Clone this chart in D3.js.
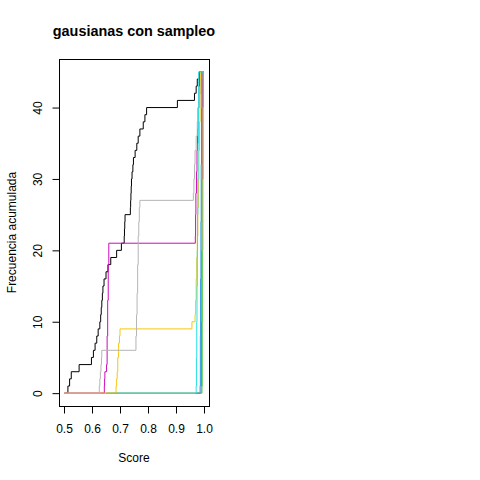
<!DOCTYPE html>
<html>
<head>
<meta charset="utf-8">
<script src="https://cdn.jsdelivr.net/npm/d3@7"></script>
<style>
  body { margin: 0; background: #fff; }
  text { font-family: "Liberation Sans", Arial, sans-serif; }
</style>
</head>
<body>
<div class="canva"></div>
<script>
// curvas de frecuencia acumulada (score, frecuencia)
const negroScore = [0.502, 0.514, 0.520, 0.526, 0.554, 0.598, 0.605, 0.611, 0.617, 0.622, 0.628, 0.631, 0.633, 0.635, 0.637, 0.639, 0.643, 0.650, 0.657, 0.667, 0.688, 0.705, 0.715, 0.716, 0.717, 0.718, 0.737, 0.738, 0.739, 0.740, 0.741, 0.743, 0.746, 0.748, 0.754, 0.760, 0.765, 0.771, 0.783, 0.789, 0.795, 0.905, 0.966, 0.972, 0.976, 0.983, 0.998];
const negroFrec  = [0, 1, 2, 3, 4, 5, 6, 7, 8, 9, 10, 11, 12, 13, 14, 15, 16, 17, 18, 19, 20, 21, 22, 23, 24, 25, 26, 27, 28, 29, 30, 31, 32, 33, 34, 35, 36, 37, 38, 39, 40, 41, 42, 43, 44, 45, 45];

const grisScore = [0.502, 0.626, 0.628, 0.630, 0.632, 0.634, 0.635, 0.757, 0.759, 0.761, 0.763, 0.765, 0.767, 0.769, 0.771, 0.962, 0.964, 0.966, 0.968, 0.972, 0.976, 0.980, 0.985, 0.990, 0.992, 0.998];
const grisFrec  = [0, 1, 2, 3, 4, 5, 6, 8, 11, 14, 18, 22, 24, 26, 27, 28, 30, 32, 34, 36, 38, 40, 42, 44, 45, 45];

const magentaScore = [0.502, 0.644, 0.645, 0.646, 0.652, 0.654, 0.656, 0.658, 0.660, 0.969, 0.970, 0.971, 0.973, 0.975, 0.977, 0.979, 0.982, 0.984, 0.998];
const magentaFrec  = [0, 1, 2, 3, 4, 8, 13, 18, 21, 22, 25, 28, 31, 34, 37, 40, 43, 45, 45];

const amarilloScore = [0.502, 0.686, 0.688, 0.690, 0.692, 0.695, 0.698, 0.700, 0.957, 0.968, 0.970, 0.972, 0.974, 0.976, 0.978, 0.980, 0.982, 0.984, 0.986, 0.988, 0.998];
const amarilloFrec  = [0, 1, 2, 3, 5, 7, 8, 9, 10, 11, 13, 16, 19, 22, 26, 30, 34, 38, 42, 45, 45];

const rojoScore = [0.502, 0.990, 0.991, 0.992, 0.993, 0.994, 0.995, 0.998];
const rojoFrec  = [0, 1, 10, 20, 30, 40, 45, 45];

const verdeScore = [0.650, 0.993, 0.994, 0.995, 0.996, 0.997, 0.998];
const verdeFrec  = [0, 1, 10, 20, 30, 40, 45];

const azulScore = [0.970, 0.986, 0.987, 0.988, 0.989, 0.990, 0.991, 0.992, 0.998];
const azulFrec  = [0, 1, 8, 16, 24, 32, 40, 45, 45];

const cianScore = [0.688, 0.972, 0.973, 0.974, 0.975, 0.976, 0.977, 0.978, 0.979, 0.980, 0.981, 0.998];
const cianFrec  = [0, 1, 5, 10, 15, 20, 25, 30, 35, 40, 45, 45];

const xTicks = [0.5, 0.6, 0.7, 0.8, 0.9, 1.0];
const yTicks = [0, 10, 20, 30, 40];

// orden de dibujo
const series = [
  {x: negroScore, y: negroFrec, col: '#000000'},
  {x: rojoScore, y: rojoFrec, col: '#DF536B'},
  {x: magentaScore, y: magentaFrec, col: '#CD0BBC'},
  {x: amarilloScore, y: amarilloFrec, col: '#F5C710'},
  {x: grisScore, y: grisFrec, col: '#b5b5b5'},
  {x: verdeScore, y: verdeFrec, col: '#61D04F'},
  {x: azulScore, y: azulFrec, col: '#2297E6'},
  {x: cianScore, y: cianFrec, col: '#28E2E5'}
];

const svg = d3.select('.canva').append('svg')
    .attr('width', 480)
    .attr('height', 480);

const x = d3.scaleLinear().domain([0.48214, 1.01786]).range([59, 209]);
const y = d3.scaleLinear().domain([-1.8, 46.8]).range([406, 59]);

const line = d3.line()
    .x(d => x(d[0]))
    .y(d => y(d[1]))
    .curve(d3.curveStepAfter);

series.forEach(s => {
  svg.append('path')
     .datum(s.x.map((v, i) => [v, s.y[i]]))
     .attr('fill', 'none')
     .attr('stroke', s.col)
     .attr('stroke-width', 1)
     .attr('d', line);
});

// caja
svg.append('rect')
   .attr('x', 59.5).attr('y', 59.5)
   .attr('width', 150).attr('height', 347)
   .attr('fill', 'none').attr('stroke', '#000');

// ejes
const xAxis = svg.append('g')
    .attr('transform', 'translate(0,406.5)')
    .call(d3.axisBottom(x).tickValues(xTicks).tickFormat(d3.format('.1f')).tickSize(7).tickSizeOuter(0));
xAxis.select('.domain').attr('d', `M${x(0.5)},0H${x(1.0)}`);
xAxis.selectAll('text').attr('font-size', 12).attr('dy', null).attr('y', 26).attr('fill', '#000');

const yAxis = svg.append('g')
    .attr('transform', 'translate(59.5,0)')
    .call(d3.axisLeft(y).tickValues(yTicks).tickSize(7).tickSizeOuter(0));
yAxis.select('.domain').attr('d', `M0,${y(0)}V${y(40)}`);
yAxis.selectAll('text')
    .attr('font-size', 12)
    .attr('x', null).attr('dy', null)
    .attr('transform', 'translate(-18,0) rotate(-90)')
    .attr('text-anchor', 'middle')
    .attr('fill', '#000');

// textos
svg.append('text')
   .attr('x', 134).attr('y', 36)
   .attr('text-anchor', 'middle')
   .attr('font-size', 14.4).attr('font-weight', 'bold')
   .text('gausianas con sampleo');

svg.append('text')
   .attr('x', 134).attr('y', 462)
   .attr('text-anchor', 'middle')
   .attr('font-size', 12)
   .text('Score');

svg.append('text')
   .attr('transform', 'translate(16,232.5) rotate(-90)')
   .attr('text-anchor', 'middle')
   .attr('font-size', 12)
   .text('Frecuencia acumulada');
</script>
</body>
</html>
